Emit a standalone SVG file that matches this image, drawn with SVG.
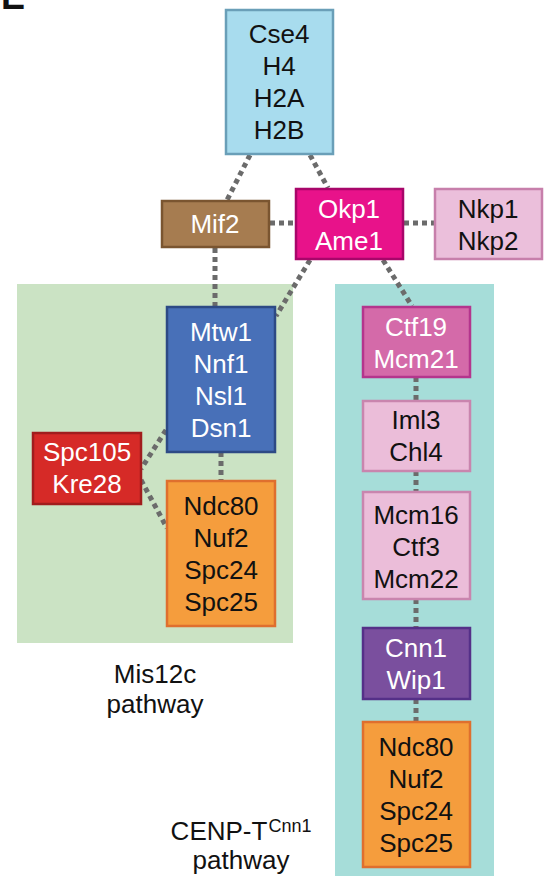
<svg xmlns="http://www.w3.org/2000/svg" width="548" height="879" viewBox="0 0 548 879">
<style>
text{font-family:"Liberation Sans",Arial,sans-serif;font-size:26px;text-anchor:middle}
.w{fill:#ffffff}
.k{fill:#111111}
.box{stroke-width:2.5}
.conn line{stroke:#6b6b6b;stroke-width:5;stroke-dasharray:5 4;fill:none}
</style>
<rect width="548" height="879" fill="#ffffff"/>
<text x="1" y="9" style="font-size:36px;font-weight:bold;text-anchor:start" class="k">E</text>
<g id="bg">
<rect x="17" y="284" width="276" height="359" fill="#cbe3c4"/>
<rect x="335" y="284" width="159" height="592" fill="#a6ddd9"/>
</g>
<g class="conn" id="connectors">
<line x1="250" y1="155" x2="227" y2="200"/>
<line x1="310" y1="155" x2="328" y2="188"/>
<line x1="270" y1="223" x2="295" y2="223"/>
<line x1="404" y1="223" x2="434" y2="223"/>
<line x1="215" y1="248" x2="215" y2="306"/>
<line x1="310" y1="260" x2="276" y2="316"/>
<line x1="383" y1="260" x2="412" y2="306"/>
<line x1="166" y1="430" x2="141" y2="469"/>
<line x1="141" y1="480" x2="167" y2="528"/>
<line x1="221" y1="452" x2="221" y2="481"/>
<line x1="416" y1="377" x2="416" y2="401"/>
<line x1="416" y1="471" x2="416" y2="492"/>
<line x1="416" y1="599" x2="416" y2="627"/>
<line x1="416" y1="699" x2="416" y2="722"/>
</g>
<g id="cse4">
<rect class="box" x="226" y="10" width="107" height="144" fill="#a8dcee" stroke="#6a9fb8"/>
<text class="k" x="279" y="43">Cse4</text>
<text class="k" x="279" y="75">H4</text>
<text class="k" x="279" y="107">H2A</text>
<text class="k" x="279" y="139">H2B</text>
</g>
<g id="mif2">
<rect class="box" x="162" y="201" width="107" height="46" fill="#a67c50" stroke="#7a5530"/>
<text class="w" x="215" y="233">Mif2</text>
</g>
<g id="okp1">
<rect class="box" x="296" y="189" width="107" height="70" fill="#e8128a" stroke="#a8066a"/>
<text class="w" x="349" y="218">Okp1</text>
<text class="w" x="349" y="250">Ame1</text>
</g>
<g id="nkp1">
<rect class="box" x="435" y="189" width="107" height="70" fill="#ebbfdb" stroke="#c77fab"/>
<text class="k" x="488" y="218">Nkp1</text>
<text class="k" x="488" y="250">Nkp2</text>
</g>
<g id="mtw1">
<rect class="box" x="167" y="307" width="108" height="145" fill="#4870b8" stroke="#2d4a85"/>
<text class="w" x="221" y="341">Mtw1</text>
<text class="w" x="221" y="373">Nnf1</text>
<text class="w" x="221" y="405">Nsl1</text>
<text class="w" x="221" y="437">Dsn1</text>
</g>
<g id="spc105">
<rect class="box" x="33" y="433" width="108" height="71" fill="#d62a27" stroke="#a11d1d"/>
<text class="w" x="87" y="461">Spc105</text>
<text class="w" x="87" y="493">Kre28</text>
</g>
<g id="ndc80a">
<rect class="box" x="167" y="481" width="108" height="145" fill="#f59d3d" stroke="#df6f2e"/>
<text class="k" x="221" y="515">Ndc80</text>
<text class="k" x="221" y="547">Nuf2</text>
<text class="k" x="221" y="579">Spc24</text>
<text class="k" x="221" y="611">Spc25</text>
</g>
<g id="ctf19">
<rect class="box" x="363" y="307" width="107" height="70" fill="#d46aa9" stroke="#b4358d"/>
<text class="w" x="416" y="336">Ctf19</text>
<text class="w" x="416" y="368">Mcm21</text>
</g>
<g id="iml3">
<rect class="box" x="363" y="401" width="107" height="70" fill="#ebbdd9" stroke="#c985ae"/>
<text class="k" x="416" y="429">Iml3</text>
<text class="k" x="416" y="461">Chl4</text>
</g>
<g id="mcm16">
<rect class="box" x="363" y="492" width="107" height="107" fill="#ebbdd9" stroke="#c985ae"/>
<text class="k" x="416" y="524">Mcm16</text>
<text class="k" x="416" y="556">Ctf3</text>
<text class="k" x="416" y="588">Mcm22</text>
</g>
<g id="cnn1">
<rect class="box" x="363" y="628" width="107" height="71" fill="#7a4f9e" stroke="#553088"/>
<text class="w" x="416" y="657">Cnn1</text>
<text class="w" x="416" y="689">Wip1</text>
</g>
<g id="ndc80b">
<rect class="box" x="363" y="722" width="107" height="145" fill="#f59d3d" stroke="#df6f2e"/>
<text class="k" x="416" y="756">Ndc80</text>
<text class="k" x="416" y="788">Nuf2</text>
<text class="k" x="416" y="820">Spc24</text>
<text class="k" x="416" y="852">Spc25</text>
</g>
<g id="labels">
<text class="k" x="155" y="683">Mis12c</text>
<text class="k" x="155" y="713">pathway</text>
<text class="k" x="219" y="840">CENP-T</text>
<text class="k" x="290" y="832" style="font-size:18px">Cnn1</text>
<text class="k" x="241" y="869">pathway</text>
</g>
</svg>
